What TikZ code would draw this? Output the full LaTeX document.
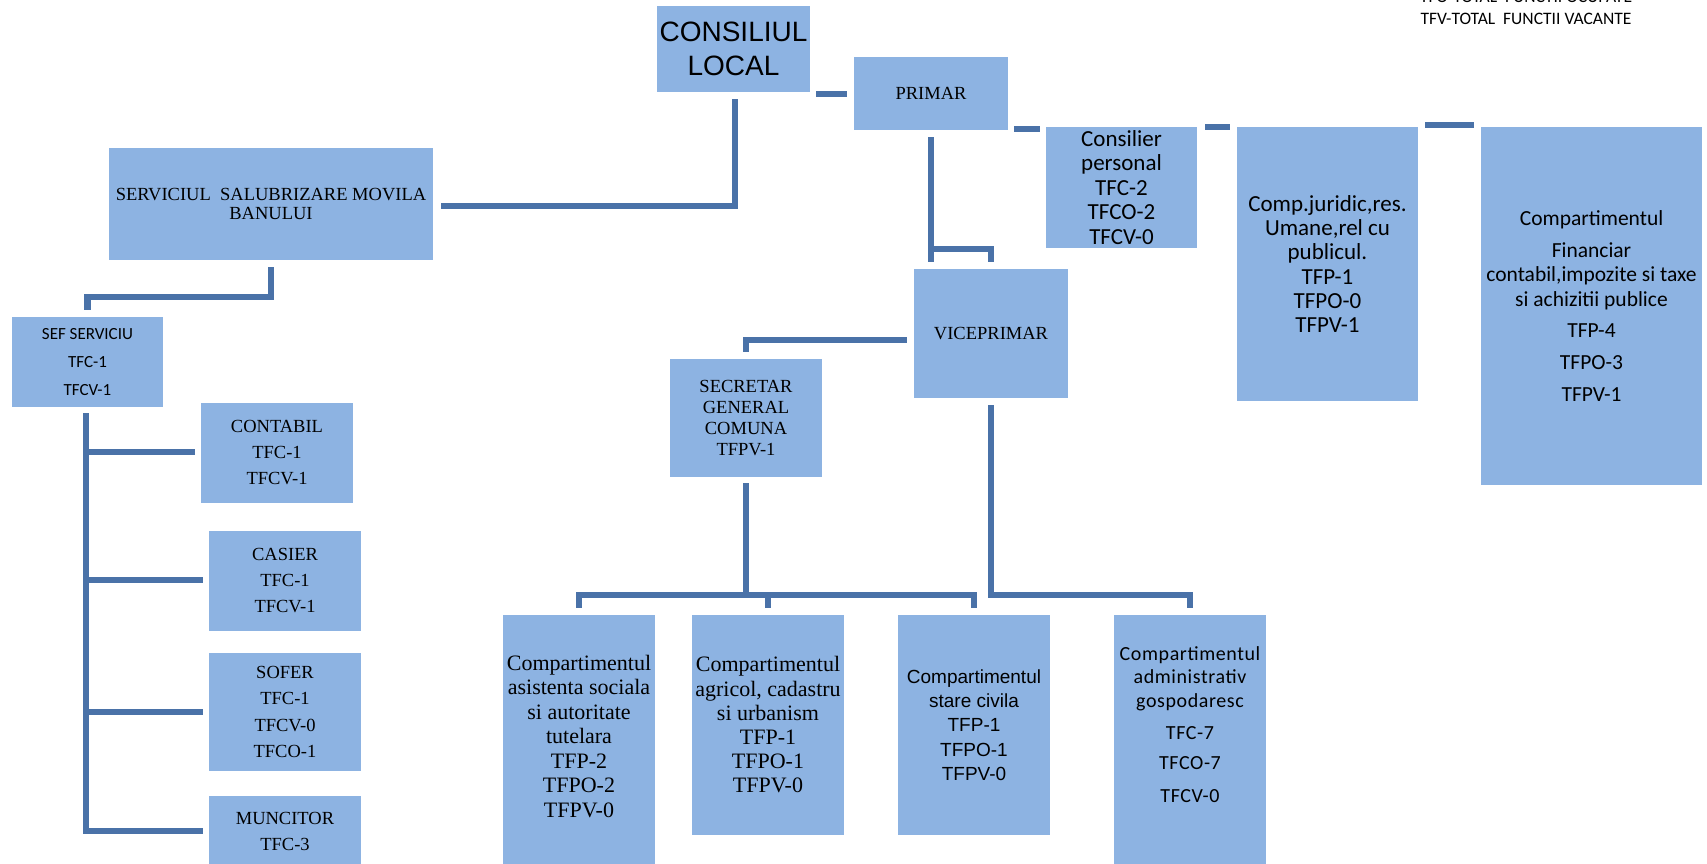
\documentclass[tikz,border=0pt]{standalone}
\usepackage{fontspec}
\setmainfont{Liberation Serif}
\newfontfamily\carlito{Carlito}
\newfontfamily\carlitosp[LetterSpace=3]{Carlito}
\newfontfamily\arialf{Liberation Sans}
\usetikzlibrary{calc}
\definecolor{boxblue}{HTML}{8DB3E2}
\definecolor{lineblue}{HTML}{4A72A8}
\tikzset{
  box/.style={fill=boxblue, draw=none, inner sep=0pt, align=center, text=black},
  txt/.style={inner sep=0pt, align=center, text=black},
  conn/.style={draw=lineblue, line width=6.5pt},
  stub/.style={draw=lineblue, line width=6pt},
}
\begin{document}
\begin{tikzpicture}[x=1pt,y=-1pt]
\useasboundingbox (0,0) rectangle (1707,863);
\clip (0,0) rectangle (1707,863);
\fill[white] (0,0) rectangle (1707,863);

% legend
\node[txt, font=\carlito\fontsize{17.5pt}{22pt}\selectfont] (legend) at (1526,8)
  {TFO-TOTAL\ \ FUNCTII OCUPATE\\TFV-TOTAL\ \ FUNCTII VACANTE};

% top
\node[box, minimum width=153pt, minimum height=86pt, font=\arialf\fontsize{28pt}{34pt}\selectfont] (cl) at (733.5,49) {CONSILIUL\\LOCAL};
\node[box, minimum width=154pt, minimum height=73pt, font=\fontsize{18.5pt}{21pt}\selectfont] (primar) at (931,93.5) {PRIMAR};
\node[box, minimum width=151pt, minimum height=121pt, font=\carlito\fontsize{23pt}{24.5pt}\selectfont] (consilier) at (1121.5,187.5) {Consilier\\personal\\TFC-2\\TFCO-2\\TFCV-0};
\node[box, minimum width=181pt, minimum height=274pt, font=\carlito\fontsize{23pt}{24.2pt}\selectfont] (juridic) at (1327.5,264) {Comp.juridic,res.\\Umane,rel\ cu\\publicul.\\TFP-1\\TFPO-0\\TFPV-1};
\node[box, minimum width=221pt, minimum height=358pt, font=\carlito\fontsize{21.5pt}{24.5pt}\selectfont] (financiar) at (1591.5,306) {Compartimentul\\[7.5pt]Financiar\\contabil,impozite si taxe\\si achizitii publice\\[6.5pt]TFP-4\\[7.5pt]TFPO-3\\[7.5pt]TFPV-1};

% left branch
\node[box, minimum width=324pt, minimum height=112pt, font=\fontsize{18.5pt}{19.5pt}\selectfont] (ssmb) at (271,204) {SERVICIUL\ \ SALUBRIZARE MOVILA\\BANULUI};
\node[box, minimum width=151pt, minimum height=90pt, font=\carlito\fontsize{17pt}{28pt}\selectfont] (sef) at (87.5,362) {SEF SERVICIU\\TFC-1\\TFCV-1};
\node[box, minimum width=152pt, minimum height=100pt, font=\fontsize{18.5pt}{26pt}\selectfont] (contabil) at (277,453) {CONTABIL\\TFC-1\\TFCV-1};
\node[box, minimum width=152pt, minimum height=100pt, font=\fontsize{18.5pt}{26pt}\selectfont] (casier) at (285,581) {CASIER\\TFC-1\\TFCV-1};
\node[box, minimum width=152pt, minimum height=118pt, font=\fontsize{18.5pt}{26.3pt}\selectfont] (sofer) at (285,712) {SOFER\\TFC-1\\TFCV-0\\TFCO-1};
\node[box, minimum width=152pt, minimum height=70pt, font=\fontsize{18.5pt}{26pt}\selectfont] (muncitor) at (285,831) {MUNCITOR\\TFC-3};

% middle
\node[box, minimum width=154pt, minimum height=129pt, font=\fontsize{18.5pt}{21pt}\selectfont] (vice) at (991,333.5) {VICEPRIMAR};
\node[box, minimum width=152pt, minimum height=118pt, font=\fontsize{18.5pt}{21.2pt}\selectfont] (secretar) at (746,418) {SECRETAR\\GENERAL\\COMUNA\\TFPV-1};

% bottom row
\node[box, minimum width=152pt, minimum height=251pt] (compA) at (579,740.5) {};
\node[txt, font=\fontsize{22pt}{24.5pt}\selectfont] (compAt) at (579,736.5) {Compartimentul\\asistenta sociala\\si autoritate\\tutelara\\TFP-2\\TFPO-2\\TFPV-0};
\node[box, minimum width=152pt, minimum height=220pt, font=\fontsize{22pt}{24.2pt}\selectfont] (compB) at (768,725) {Compartimentul\\agricol, cadastru\\si urbanism\\TFP-1\\TFPO-1\\TFPV-0};
\node[box, minimum width=152pt, minimum height=220pt, font=\arialf\fontsize{19pt}{24.3pt}\selectfont] (compC) at (974,725) {Compartimentul\\stare civila\\TFP-1\\TFPO-1\\TFPV-0};
\node[box, minimum width=152pt, minimum height=251pt] (compD) at (1190,740.5) {};
\node[txt, font=\carlitosp\fontsize{20pt}{23.5pt}\selectfont] (compDt) at (1190,724.5) {Compartimentul\\administrativ\\gospodaresc\\[9pt]TFC-7\\[6.5pt]TFCO-7\\[9pt]TFCV-0};

% connectors
\draw[stub] ($(cl.east |- primar.west)+(6pt,0pt)$) -- ($(primar.west)+(-7pt,0pt)$);
\draw[stub] ($(primar.south east)+(6pt,1pt)$) -- ($(primar.south east -| consilier.west)+(-6pt,1pt)$);
\draw[stub] ($(consilier.north east)+(8pt,0pt)$) -- ($(juridic.north west)+(-7pt,0pt)$);
\draw[stub] ($(juridic.north east)+(7pt,2pt)$) -- ($(financiar.north west)+(-7pt,2pt)$);

\draw[conn] ($(cl.south)+(1.5pt,-7pt)$) |- ($(ssmb.east)+(8pt,-2pt)$);

\coordinate (pv) at ($(vice.north)+(0pt,20pt)$);
\draw[conn] ($(primar.south)+(0pt,-7pt)$) -- ($(primar.south |- vice.north)+(0pt,7pt)$);
\draw[conn] (pv -| primar.south) -- (pv) -- ($(vice.north)+(0pt,7pt)$);

\draw[conn] ($(vice.west)+(-7pt,-6.5pt)$) -| ($(secretar.north)+(0pt,7pt)$);

\coordinate (bus) at ($(compB.north)+(0pt,20pt)$);
\draw[conn] ($(secretar.south)+(0pt,-6pt)$) -- (secretar.south |- bus);
\draw[conn] ($(compA.north)+(0pt,7pt)$) |- (bus -| compC.north) -- ($(compC.north)+(0pt,7pt)$);
\draw[conn] ($(compB.north)+(0pt,7pt)$) -- (bus);
\draw[conn] ($(vice.south)+(0pt,-7pt)$) |- (bus -| compD.north) -- ($(compD.north)+(0pt,7pt)$);

\coordinate (sj) at ($(sef.north)+(0pt,20pt)$);
\draw[conn] ($(ssmb.south)+(0pt,-7pt)$) |- (sj) -- ($(sef.north)+(0pt,7pt)$);
\draw[conn] ($(sef.south)+(-1.5pt,-6pt)$) |- ($(muncitor.west)+(-6pt,0pt)$);
\draw[conn] ($(sef.south |- contabil.west)+(-1.5pt,1pt)$) -- ($(contabil.west)+(-6pt,1pt)$);
\draw[conn] ($(sef.south |- casier.west)+(-1.5pt,1pt)$) -- ($(casier.west)+(-6pt,1pt)$);
\draw[conn] ($(sef.south |- sofer.west)+(-1.5pt,0pt)$) -- ($(sofer.west)+(-6pt,0pt)$);
\end{tikzpicture}
\end{document}
